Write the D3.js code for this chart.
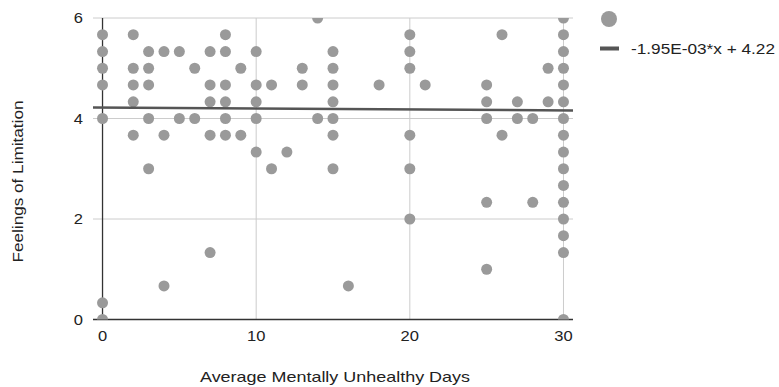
<!DOCTYPE html>
<html>
<head>
<meta charset="utf-8">
<script src="https://cdn.jsdelivr.net/npm/d3@7"></script>
<style>
  html, body { margin: 0; padding: 0; background: #fff; }
  svg { display: block; font-family: "Liberation Sans", Arial, sans-serif; }
</style>
</head>
<body>
<svg id="chart" width="779" height="387"></svg>
<script>
// Data: x = Average Mentally Unhealthy Days, y = Feelings of Limitation
const xValues = [
  0,0,0,0,0,0,0,
  2,2,2,2,2,
  3,3,3,3,3,
  4,4,4,
  5,5,
  6,6,
  7,7,7,7,7,
  8,8,8,8,8,8,
  9,9,
  10,10,10,10,10,
  11,11,
  12,
  13,13,
  14,14,
  15,15,15,15,15,15,15,
  16,
  18,
  20,20,20,20,20,20,
  21,
  25,25,25,25,25,
  26,26,
  27,27,
  28,28,
  29,29,
  30,30,30,30,30,30,30,30,30,30,30,30,30,30,30,30
];
const yValues = [
  5.667,5.333,5,4.667,4,0.333,0,
  5.667,5,4.667,4.333,3.667,
  5.333,5,4.667,4,3,
  5.333,3.667,0.667,
  5.333,4,
  5,4,
  5.333,4.667,4.333,3.667,1.333,
  5.667,5.333,4.667,4.333,4,3.667,
  5,3.667,
  5.333,4.667,4.333,4,3.333,
  4.667,3,
  3.333,
  5,4.667,
  6,4,
  5.333,5,4.667,4.333,4,3.667,3,
  0.667,
  4.667,
  5.667,5.333,5,3.667,3,2,
  4.667,
  4.667,4.333,4,2.333,1,
  5.667,3.667,
  4.333,4,
  4,2.333,
  5,4.333,
  6,5.667,5.333,5,4.667,4.333,4,3.667,3.333,3,2.667,2.333,2,1.667,1.333,0
];
const trendSlope = -1.95e-3;
const trendIntercept = 4.22;
const trendLabel = "-1.95E-03*x + 4.22";
const xTicks = [0, 10, 20, 30];
const yTicks = [0, 2, 4, 6];
const xTitle = "Average Mentally Unhealthy Days";
const yTitle = "Feelings of Limitation";

(function () {
const points = xValues.map((x, i) => ({ x, y: yValues[i] }));

const svg = d3.select("#chart");
const pLeft = 93, pRight = 573, pTop = 18, pBottom = 319.5;
const xDomain = [-0.62, 30.62];
const x = d3.scaleLinear().domain(xDomain).range([pLeft, pRight]);
const y = d3.scaleLinear().domain([0, 6]).range([pBottom, pTop]);
const FS = 14.5;
const digitW = 9.2;

svg.append("defs").append("clipPath").attr("id", "plotclip")
  .append("rect").attr("x", pLeft).attr("y", pTop).attr("width", pRight - pLeft).attr("height", pBottom - pTop);

// gridlines
const grid = svg.append("g");
grid.selectAll("line.h").data(yTicks.filter(d => d !== 0)).enter().append("line")
  .attr("class", "h")
  .attr("x1", pLeft).attr("x2", pRight)
  .attr("y1", d => y(d)).attr("y2", d => y(d))
  .attr("stroke", "#cccccc").attr("stroke-width", 1);
grid.selectAll("line.v").data(xTicks.filter(d => d !== 0)).enter().append("line")
  .attr("class", "v")
  .attr("y1", pTop).attr("y2", pBottom)
  .attr("x1", d => x(d)).attr("x2", d => x(d))
  .attr("stroke", "#cccccc").attr("stroke-width", 1);

// zero axes
svg.append("line").attr("x1", x(0)).attr("x2", x(0)).attr("y1", pTop).attr("y2", pBottom)
  .attr("stroke", "#333").attr("stroke-width", 1.3);
svg.append("line").attr("x1", pLeft).attr("x2", pRight).attr("y1", y(0)).attr("y2", y(0))
  .attr("stroke", "#333").attr("stroke-width", 1.3);

// points
svg.append("g").attr("clip-path", "url(#plotclip)")
  .selectAll("circle").data(points).enter().append("circle")
  .attr("cx", d => x(d.x)).attr("cy", d => y(d.y)).attr("r", 5.5)
  .attr("fill", "#9a9a9a");

// trendline
svg.append("line")
  .attr("x1", x(xDomain[0])).attr("x2", x(xDomain[1]))
  .attr("y1", y(trendIntercept + trendSlope * xDomain[0]))
  .attr("y2", y(trendIntercept + trendSlope * xDomain[1]))
  .attr("stroke", "#555555").attr("stroke-width", 2.5);

// tick labels
svg.append("g").selectAll("text").data(yTicks).enter().append("text")
  .attr("x", 83).attr("y", d => y(d)).attr("dy", "0.36em")
  .attr("text-anchor", "end").attr("font-size", FS).attr("fill", "#222")
  .attr("textLength", d => String(d).length * digitW).attr("lengthAdjust", "spacingAndGlyphs")
  .text(d => d);
svg.append("g").selectAll("text").data(xTicks).enter().append("text")
  .attr("x", d => x(d)).attr("y", 341)
  .attr("text-anchor", "middle").attr("font-size", FS).attr("fill", "#222")
  .attr("textLength", d => String(d).length * digitW).attr("lengthAdjust", "spacingAndGlyphs")
  .text(d => d);

// axis titles
svg.append("text").attr("x", 335).attr("y", 382).attr("text-anchor", "middle")
  .attr("font-size", FS).attr("fill", "#222")
  .attr("textLength", 270).attr("lengthAdjust", "spacingAndGlyphs").text(xTitle);
svg.append("text").attr("transform", "translate(23,181.5) rotate(-90)")
  .attr("text-anchor", "middle").attr("font-size", FS).attr("fill", "#222")
  .attr("textLength", 162).attr("lengthAdjust", "spacingAndGlyphs").text(yTitle);

// legend
svg.append("circle").attr("cx", 609).attr("cy", 19).attr("r", 8).attr("fill", "#9a9a9a");
svg.append("rect").attr("x", 600).attr("y", 46.5).attr("width", 19).attr("height", 4).attr("fill", "#555555");
svg.append("text").attr("x", 631).attr("y", 54).attr("font-size", FS).attr("fill", "#222")
  .attr("textLength", 144).attr("lengthAdjust", "spacingAndGlyphs").text(trendLabel);
})();
</script>
</body>
</html>
